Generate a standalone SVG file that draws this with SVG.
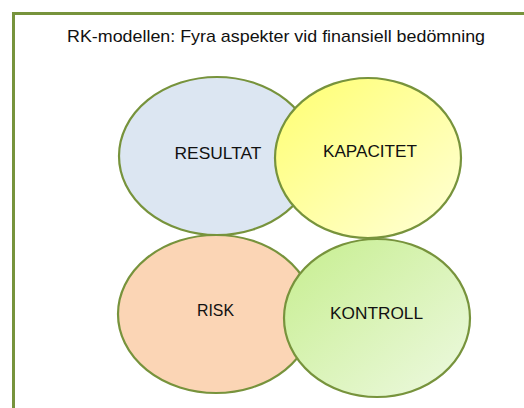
<svg xmlns="http://www.w3.org/2000/svg" width="524" height="408" viewBox="0 0 524 408">
<style>
.frame{fill:#ffffff;stroke:#77933C;stroke-width:3}
.el{stroke:#77933C;stroke-width:2.2}
.t{font-family:"Liberation Sans",Arial,sans-serif;fill:#111111;text-anchor:middle}
.lbl{font-size:17px}
</style>
<defs>
<linearGradient id="gY" x1="0" y1="0" x2="1" y2="1">
<stop offset="0" stop-color="#FFFF70"/>
<stop offset="1" stop-color="#FFFFD8"/>
</linearGradient>
<linearGradient id="gG" x1="0" y1="0" x2="1" y2="1">
<stop offset="0" stop-color="#C6EE8E"/>
<stop offset="1" stop-color="#EEF9E2"/>
</linearGradient>
</defs>
<rect class="frame" x="13.5" y="13.5" width="540" height="420"/>
<text class="t" x="276" y="42" font-size="17" textLength="418" lengthAdjust="spacingAndGlyphs">RK-modellen: Fyra aspekter vid finansiell bedömning</text>
<g id="resultat">
<ellipse class="el" cx="217" cy="156" rx="98" ry="79" fill="#DCE6F2"/>
<text class="t lbl" x="218" y="159" textLength="87" lengthAdjust="spacingAndGlyphs">RESULTAT</text>
</g>
<g id="kapacitet">
<ellipse class="el" cx="368" cy="158" rx="93" ry="80" fill="url(#gY)"/>
<text class="t lbl" x="370" y="157" textLength="94" lengthAdjust="spacingAndGlyphs">KAPACITET</text>
</g>
<g id="risk">
<ellipse class="el" cx="216" cy="314" rx="98" ry="79" fill="#FBD5B5"/>
<text class="t lbl" x="215.5" y="316" textLength="37" lengthAdjust="spacingAndGlyphs">RISK</text>
</g>
<g id="kontroll">
<ellipse class="el" cx="377" cy="318" rx="93" ry="79" fill="url(#gG)"/>
<text class="t lbl" x="376.5" y="319" textLength="93" lengthAdjust="spacingAndGlyphs">KONTROLL</text>
</g>
<g id="connectors"/>
</svg>
